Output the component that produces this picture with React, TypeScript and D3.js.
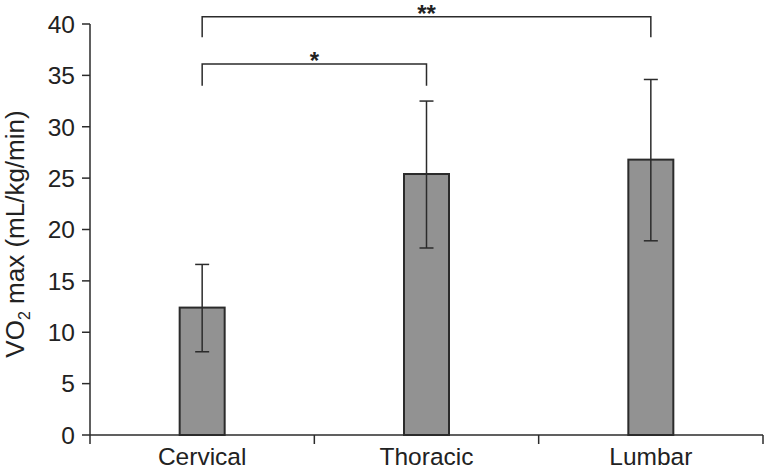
import { useRef, useEffect } from "react";
import * as d3 from "d3";

const categories = ["Cervical", "Thoracic", "Lumbar"];
const means = [12.4, 25.4, 26.8];
const lower = [8.1, 18.2, 18.9];
const upper = [16.6, 32.5, 34.6];
const yTicks = [0, 5, 10, 15, 20, 25, 30, 35, 40];
// significance brackets: from, to, bar level, leg end, label
const brackets = [
  { from: 0, to: 2, top: 40.7, leg: 38.7, label: "**" },
  { from: 0, to: 1, top: 36.1, leg: 34.0, label: "*" },
];

export default function App() {
  const ref = useRef<SVGSVGElement>(null);
  const width = 769;
  const height = 472;

  useEffect(() => {
    const svg = d3.select(ref.current);
    svg.selectAll("*").remove();

    const left = 90;
    const right = 763;
    const top = 24;
    const bottom = 435;
    const ink = "#2b2b2b";
    const font = "Liberation Sans, Arial, sans-serif";

    const x = d3.scaleBand().domain(categories).range([left, right]);
    const y = d3.scaleLinear().domain([0, 40]).range([bottom, top]);
    const barW = 45;

    const g = svg.append("g");

    // y axis
    g.append("line")
      .attr("x1", left).attr("x2", left)
      .attr("y1", y(40)).attr("y2", bottom + 9)
      .attr("stroke", ink).attr("stroke-width", 1.5);
    yTicks.forEach((t) => {
      g.append("line")
        .attr("x1", left - 8).attr("x2", left)
        .attr("y1", y(t)).attr("y2", y(t))
        .attr("stroke", ink).attr("stroke-width", 1.5);
      g.append("text")
        .attr("x", left - 15).attr("y", y(t))
        .attr("dy", "0.36em")
        .attr("text-anchor", "end")
        .attr("font-family", font).attr("font-size", 24.5)
        .attr("fill", "#222")
        .text(t);
    });

    // x axis
    g.append("line")
      .attr("x1", left).attr("x2", right)
      .attr("y1", bottom).attr("y2", bottom)
      .attr("stroke", ink).attr("stroke-width", 1.5);
    categories.forEach((c) => {
      const edge = (x(c) as number) + x.bandwidth();
      g.append("line")
        .attr("x1", edge).attr("x2", edge)
        .attr("y1", bottom).attr("y2", bottom + 9)
        .attr("stroke", ink).attr("stroke-width", 1.5);
      g.append("text")
        .attr("x", (x(c) as number) + x.bandwidth() / 2)
        .attr("y", 465)
        .attr("text-anchor", "middle")
        .attr("font-family", font).attr("font-size", 24.5)
        .attr("fill", "#222")
        .text(c);
    });

    // bars
    categories.forEach((c, i) => {
      const cx = (x(c) as number) + x.bandwidth() / 2;
      g.append("rect")
        .attr("x", cx - barW / 2)
        .attr("y", y(means[i]))
        .attr("width", barW)
        .attr("height", bottom - y(means[i]))
        .attr("fill", "#929292")
        .attr("stroke", ink).attr("stroke-width", 2);
      g.append("line")
        .attr("x1", cx).attr("x2", cx)
        .attr("y1", y(lower[i])).attr("y2", y(upper[i]))
        .attr("stroke", ink).attr("stroke-width", 1.5);
      [lower[i], upper[i]].forEach((v) => {
        g.append("line")
          .attr("x1", cx - 7).attr("x2", cx + 7)
          .attr("y1", y(v)).attr("y2", y(v))
          .attr("stroke", ink).attr("stroke-width", 1.5);
      });
    });

    // significance brackets
    brackets.forEach((b) => {
      const x1 = (x(categories[b.from]) as number) + x.bandwidth() / 2;
      const x2 = (x(categories[b.to]) as number) + x.bandwidth() / 2;
      g.append("path")
        .attr("d", `M${x1},${y(b.leg)}V${y(b.top)}H${x2}V${y(b.leg)}`)
        .attr("fill", "none")
        .attr("stroke", ink).attr("stroke-width", 1.5);
      g.append("text")
        .attr("x", (x1 + x2) / 2).attr("y", y(b.top) + 5)
        .attr("text-anchor", "middle")
        .attr("font-family", font).attr("font-size", 24)
        .attr("font-weight", "bold")
        .attr("fill", "#222")
        .text(b.label);
    });

    // y label
    const yl = g.append("text")
      .attr("transform", `translate(24,234) rotate(-90)`)
      .attr("text-anchor", "middle")
      .attr("font-family", font).attr("font-size", 26)
      .attr("fill", "#222");
    yl.append("tspan").text("VO");
    yl.append("tspan").attr("font-size", 16).attr("dy", 6).text("2");
    yl.append("tspan").attr("dy", -6).text(" max (mL/kg/min)");
  }, []);

  return (
    <svg
      ref={ref}
      width={width}
      height={height}
      style={{ position: "absolute", left: 0, top: 0, background: "#fff" }}
    ></svg>
  );
}
